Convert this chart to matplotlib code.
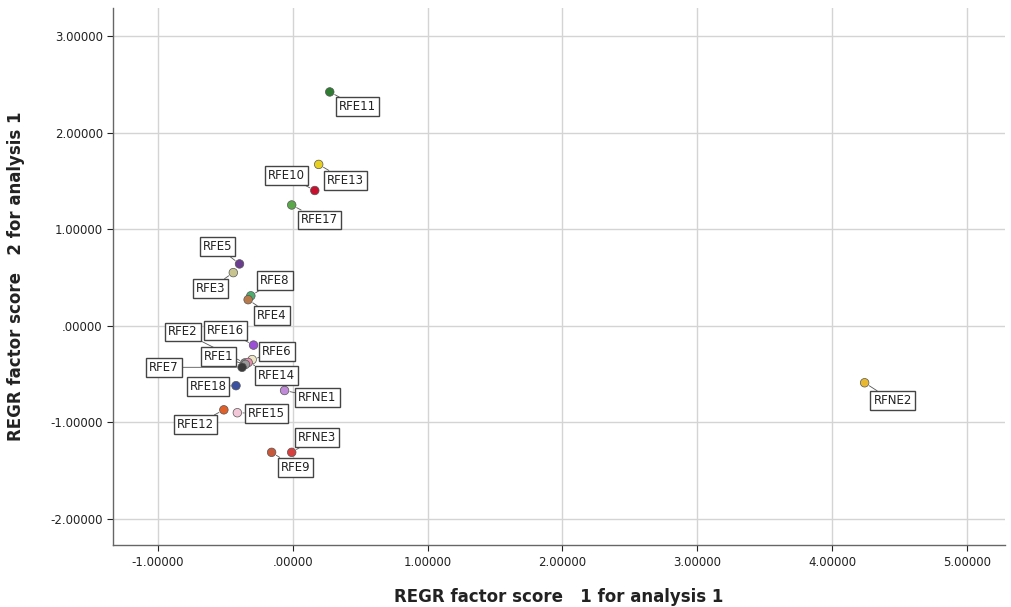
import matplotlib
matplotlib.use('Agg')
import matplotlib.pyplot as plt

labels = ['RFE11', 'RFE13', 'RFE10', 'RFE17', 'RFE5', 'RFE3', 'RFE8', 'RFE4',
          'RFE2', 'RFE16', 'RFE6', 'RFE14', 'RFE1', 'RFE7', 'RFE18', 'RFNE1',
          'RFE12', 'RFE15', 'RFE9', 'RFNE3', 'RFNE2']
score1 = [0.275, 0.193, 0.164, -0.007, -0.394, -0.44, -0.31, -0.33,
          -0.355, -0.29, -0.30, -0.33, -0.35, -0.375, -0.42, -0.06,
          -0.51, -0.41, -0.156, -0.007, 4.24]
score2 = [2.42, 1.67, 1.40, 1.25, 0.64, 0.55, 0.31, 0.27,
          -0.385, -0.20, -0.35, -0.38, -0.40, -0.43, -0.62, -0.67,
          -0.87, -0.90, -1.31, -1.31, -0.59]
colors = ['#2e7d32', '#e8d020', '#c8102e', '#5aa84a', '#6a3d8f', '#c8c490', '#4caf70', '#b87a4a',
          '#8a8a8a', '#9b4fd6', '#efe6c8', '#e88fb0', '#9a9a9a', '#3a3a3a', '#3b50a0', '#c08ad8',
          '#e0602a', '#f2c8d8', '#c8583a', '#d84040', '#e8b830']
# label offsets in screen pixels (dx right, dy down) from each point
offsets = [(28, 15), (27, 16), (-28, -15), (28, 15), (-22, -17), (-23, 16), (24, -15), (24, 16),
           (-62, -31), (-28, -15), (25, -8), (28, 13), (-27, -8), (-78, 0), (-28, 1), (33, 7),
           (-28, 15), (29, 1), (24, 15), (25, -15), (28, 18)]

fig = plt.figure(figsize=(10.11, 6.07), dpi=100)
ax = fig.add_axes([0.112, 0.102, 0.882, 0.885])

ax.grid(True, color='#d4d4d4', linewidth=1.0)
ax.set_axisbelow(True)

ax.scatter(score1, score2, s=38, c=colors, edgecolors='#555555', linewidths=0.5, zorder=3)

for lab, x, y, off in zip(labels, score1, score2, offsets):
    ax.annotate(lab, (x, y), xytext=(off[0], -off[1]), textcoords='offset pixels',
                ha='center', va='center', fontsize=8.5, color='#222222', zorder=4,
                bbox=dict(boxstyle='square,pad=0.25', fc='white', ec='#444444', lw=1.0),
                arrowprops=dict(arrowstyle='-', color='#555555', lw=0.6, shrinkA=0, shrinkB=4))

ax.set_xlim(-1.33, 5.28)
ax.set_ylim(-2.27, 3.29)
ax.set_xticks([-1, 0, 1, 2, 3, 4, 5])
ax.set_xticklabels(['-1.00000', '.00000', '1.00000', '2.00000', '3.00000', '4.00000', '5.00000'])
ax.set_yticks([-2, -1, 0, 1, 2, 3])
ax.set_yticklabels(['-2.00000', '-1.00000', '.00000', '1.00000', '2.00000', '3.00000'])
ax.tick_params(labelsize=8.5, colors='#222222', length=4, width=0.8, direction='out')

for side in ['top', 'right']:
    ax.spines[side].set_visible(False)
for side in ['left', 'bottom']:
    ax.spines[side].set_color('#666666')
    ax.spines[side].set_linewidth(1.0)

ax.set_xlabel('REGR factor score   1 for analysis 1', fontsize=12, fontweight='bold',
              color='#222222', labelpad=14)
ax.set_ylabel('REGR factor score   2 for analysis 1', fontsize=12, fontweight='bold',
              color='#222222', labelpad=18)

fig.savefig('out.png', dpi=100)
